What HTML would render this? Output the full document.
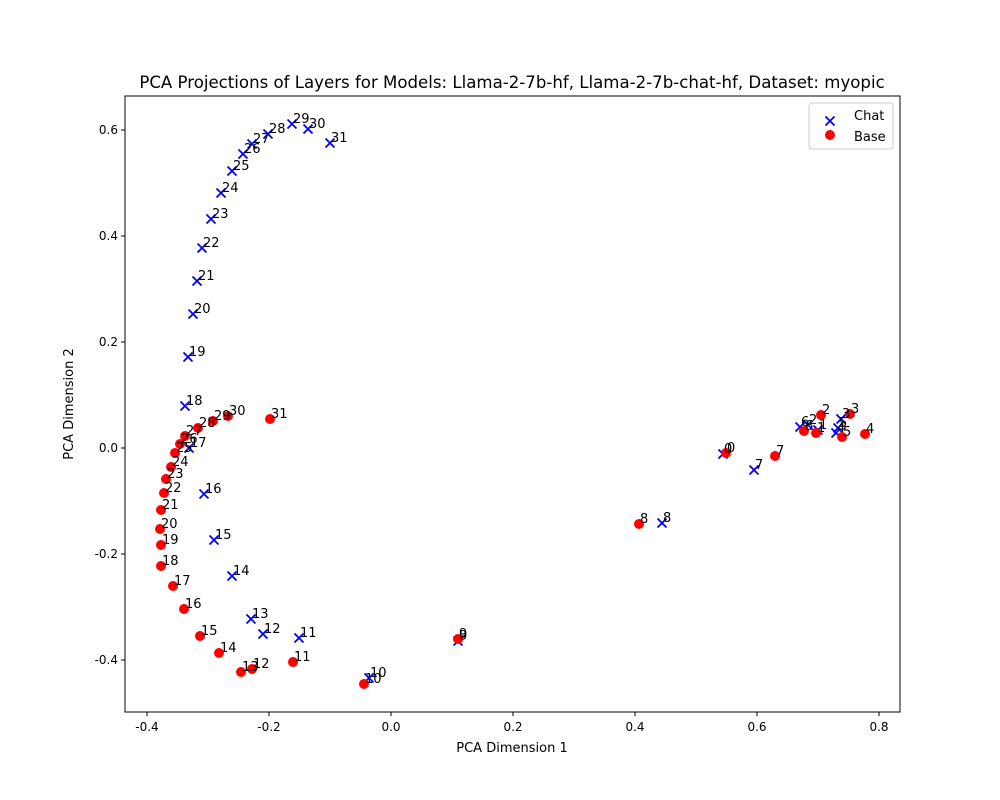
<!DOCTYPE html>
<html><head><meta charset="utf-8"><style>body{margin:0;background:#fff}svg{display:block}text{font-family:"DejaVu Sans","Liberation Sans",sans-serif;fill:#000}</style></head>
<body>
<svg id="s" width="1000" height="800" xmlns="http://www.w3.org/2000/svg">
<rect x="0" y="0" width="1000" height="800" fill="#fff"/>
<text x="512" y="88" font-size="16.6" text-anchor="middle">PCA Projections of Layers for Models: Llama-2-7b-hf, Llama-2-7b-chat-hf, Dataset: myopic</text>
<g id="ticks" font-size="12"></g>
<g id="pts"></g>
<rect x="125" y="96" width="775" height="616" fill="none" stroke="#000" stroke-width="1"/>
<text x="512" y="752" font-size="13" text-anchor="middle">PCA Dimension 1</text>
<text x="73" y="404" font-size="13" text-anchor="middle" transform="rotate(-90 73 404)">PCA Dimension 2</text>
<rect x="809" y="103" width="84" height="46" rx="3" fill="#fff" stroke="#ccc"/>
<text x="854" y="120" font-size="13">Chat</text>
<text x="854" y="141" font-size="13">Base</text>
</svg>
<script>
const NS="http://www.w3.org/2000/svg";
const s=document.getElementById('s'),t=document.getElementById('ticks'),p=document.getElementById('pts');
function el(n,a,par,txt){const e=document.createElementNS(NS,n);for(const k in a)e.setAttribute(k,a[k]);if(txt!==undefined)e.textContent=txt;par.appendChild(e);return e;}
[-0.4,-0.2,0,0.2,0.4,0.6,0.8].forEach(v=>{const x=391+v*610;el('line',{x1:x,x2:x,y1:712,y2:716,stroke:'#000'},t);el('text',{x:x,y:731,'text-anchor':'middle'},t,v.toFixed(1));});
[-0.4,-0.2,0,0.2,0.4,0.6].forEach(v=>{const y=448-v*530;el('line',{x1:121,x2:125,y1:y,y2:y,stroke:'#000'},t);el('text',{x:118,y:y+4,'text-anchor':'end'},t,v.toFixed(1));});
function X(x,y,g){const d=4.5;el('path',{d:`M${x-d} ${y-d}L${x+d} ${y+d}M${x-d} ${y+d}L${x+d} ${y-d}`,stroke:'#00f','stroke-width':1.8},g);}
function O(x,y,g){el('circle',{cx:x,cy:y,r:5,fill:'#f00'},g);}
const chat=[[723,454],[818,430],[808,425],[841,419],[836,433],[838,428],[800,427],[754,470],[662,523],[458,641],[369,678],[299,638],[263,634],[251,619],[232,576],[214,540],[204,494],[189,448],[185,406],[188,357],[193,314],[197,281],[202,248],[211,219],[221,193],[232,171],[243,154],[252,144],[268,134],[292,124],[308,129],[330,143]];
const base=[[726,453],[816,433],[821,415],[850,414],[865,434],[842,437],[804,431],[775,456],[639,524],[458,639],[364,684],[293,662],[252,669],[241,672],[219,653],[200,636],[184,609],[173,586],[161,566],[161,545],[160,529],[161,510],[164,493],[166,479],[171,467],[175,453],[180,444],[185,436],[198,428],[213,421],[228,416],[270,419]];
chat.forEach(([x,y])=>X(x,y,p));
base.forEach(([x,y])=>O(x,y,p));
chat.forEach(([x,y],i)=>el('text',{x:x+1,y:y-1,'font-size':13},p,i));
base.forEach(([x,y],i)=>el('text',{x:x+1,y:y-1,'font-size':13},p,i));
X(830,121,s);O(830,135,s);
</script>
</body></html>
